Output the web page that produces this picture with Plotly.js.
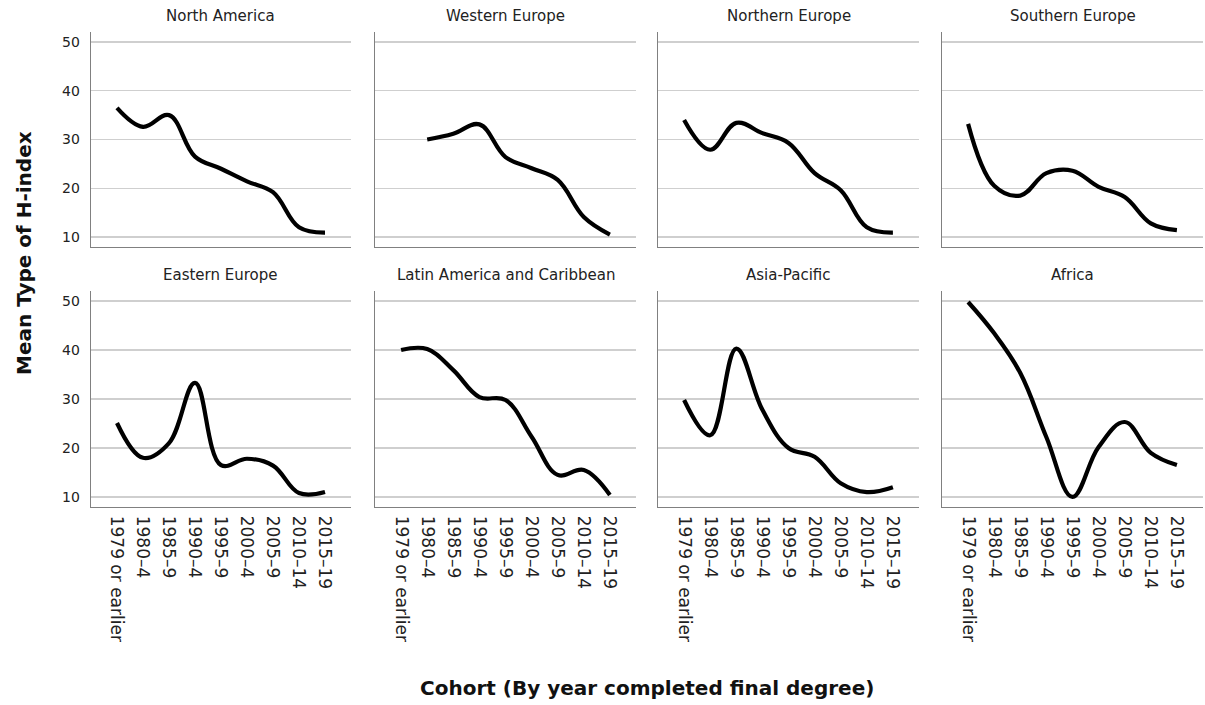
<!DOCTYPE html>
<html>
<head>
<meta charset="utf-8">
<script src="https://cdn.plot.ly/plotly-3.0.1.min.js"></script>
<style>html,body{margin:0;padding:0;background:#fff;}#chart{width:1205px;height:705px;}</style>
</head>
<body>
<div id="chart"></div>
<script>
const cohorts = ["1979 or earlier","1980–4","1985–9","1990–4","1995–9","2000–4","2005–9","2010–14","2015–19"];
const regions = ["North America","Western Europe","Northern Europe","Southern Europe","Eastern Europe","Latin America and Caribbean","Asia-Pacific","Africa"];
const northAmerica   = [36.5, 32.6, 35.0, 26.5, 24.0, 21.4, 19.2, 12.0, 10.9];
const westernEurope  = [null, 30.0, 31.2, 33.1, 26.4, 24.1, 21.7, 14.1, 10.5];
const northernEurope = [34.0, 27.9, 33.4, 31.3, 29.3, 23.1, 19.6, 12.0, 10.9];
const southernEurope = [33.2, 20.5, 18.5, 23.1, 23.6, 20.3, 18.2, 12.8, 11.4];
const easternEurope  = [25.1, 18.0, 21.0, 33.3, 16.5, 17.8, 16.4, 10.8, 11.0];
const latinAmerica   = [40.0, 40.2, 35.9, 30.4, 29.8, 22.3, 14.5, 15.5, 10.4];
const asiaPacific    = [29.8, 22.6, 40.3, 27.8, 20.0, 18.2, 12.8, 11.0, 12.0];
const africa         = [49.8, 43.4, 35.3, 22.2, 10.0, 20.2, 25.3, 19.0, 16.5];
const seriesList = [northAmerica, westernEurope, northernEurope, southernEurope, easternEurope, latinAmerica, asiaPacific, africa];

const W = 1205, H = 705;
const colsPx = [[91,351],[375,636],[658,919],[942,1203]];
const rowsPx = [[32,247],[291,507]];
const FONT = "DejaVu Sans, Verdana, sans-serif";

const data = [];
const layout = {
  width: W, height: H,
  margin: {l:0, r:0, t:0, b:0},
  paper_bgcolor: "#fff", plot_bgcolor: "#fff",
  showlegend: false,
  font: {family: FONT, color: "#222"},
  annotations: []
};

seriesList.forEach((vals, i) => {
  const n = i + 1;
  const col = i % 4, row = Math.floor(i / 4);
  const xa = "xaxis" + (n === 1 ? "" : n);
  const ya = "yaxis" + (n === 1 ? "" : n);
  data.push({
    type: "scatter", mode: "lines",
    x: cohorts.map((c, k) => k), y: vals,
    xaxis: "x" + (n === 1 ? "" : n), yaxis: "y" + (n === 1 ? "" : n),
    line: {color: "#000", width: 4.2, shape: "spline", smoothing: 1.1},
    connectgaps: false, hoverinfo: "skip"
  });
  const cx = colsPx[col], ry = rowsPx[row];
  layout[xa] = {
    domain: [cx[0]/W, cx[1]/W],
    anchor: "y" + (n === 1 ? "" : n),
    range: [-1, 9],
    tickmode: "array",
    tickvals: cohorts.map((c, k) => k),
    ticktext: cohorts,
    showticklabels: row === 1,
    tickangle: 90,
    tickfont: {family: FONT, size: 17, color: "#222"},
    ticks: "",
    ticklabelstandoff: 4,
    showgrid: false, zeroline: false,
    showline: true, linecolor: "#808080", linewidth: 1.3,
    fixedrange: true
  };
  layout[ya] = {
    domain: [1 - ry[1]/H, 1 - ry[0]/H],
    anchor: "x" + (n === 1 ? "" : n),
    range: [7.95, 52.05],
    tickvals: [10,20,30,40,50],
    showticklabels: col === 0,
    tickfont: {family: FONT, size: 14, color: "#222"},
    ticks: "",
    ticklabelstandoff: 7,
    showgrid: true, gridcolor: "#cfcfcf", gridwidth: 1.3,
    zeroline: false,
    showline: true, linecolor: "#808080", linewidth: 1.3,
    fixedrange: true
  };
  layout.annotations.push({
    text: regions[i], xref: "paper", yref: "paper",
    x: (cx[0] + cx[1]) / 2 / W, y: 1 - (ry[0] - 16) / H,
    xanchor: "center", yanchor: "middle", showarrow: false,
    font: {family: FONT, size: 15, color: "#222"}
  });
});

layout.annotations.push({
  text: "<b>Mean Type of H-index</b>", xref: "paper", yref: "paper",
  x: 24 / W, y: 1 - 253 / H, textangle: -90,
  xanchor: "center", yanchor: "middle", showarrow: false,
  font: {family: FONT, size: 20, color: "#111"}
});
layout.annotations.push({
  text: "<b>Cohort (By year completed final degree)</b>", xref: "paper", yref: "paper",
  x: 647 / W, y: 1 - 688 / H,
  xanchor: "center", yanchor: "middle", showarrow: false,
  font: {family: FONT, size: 20, color: "#111"}
});

Plotly.newPlot("chart", data, layout, {staticPlot: true, displayModeBar: false});
</script>
</body>
</html>
